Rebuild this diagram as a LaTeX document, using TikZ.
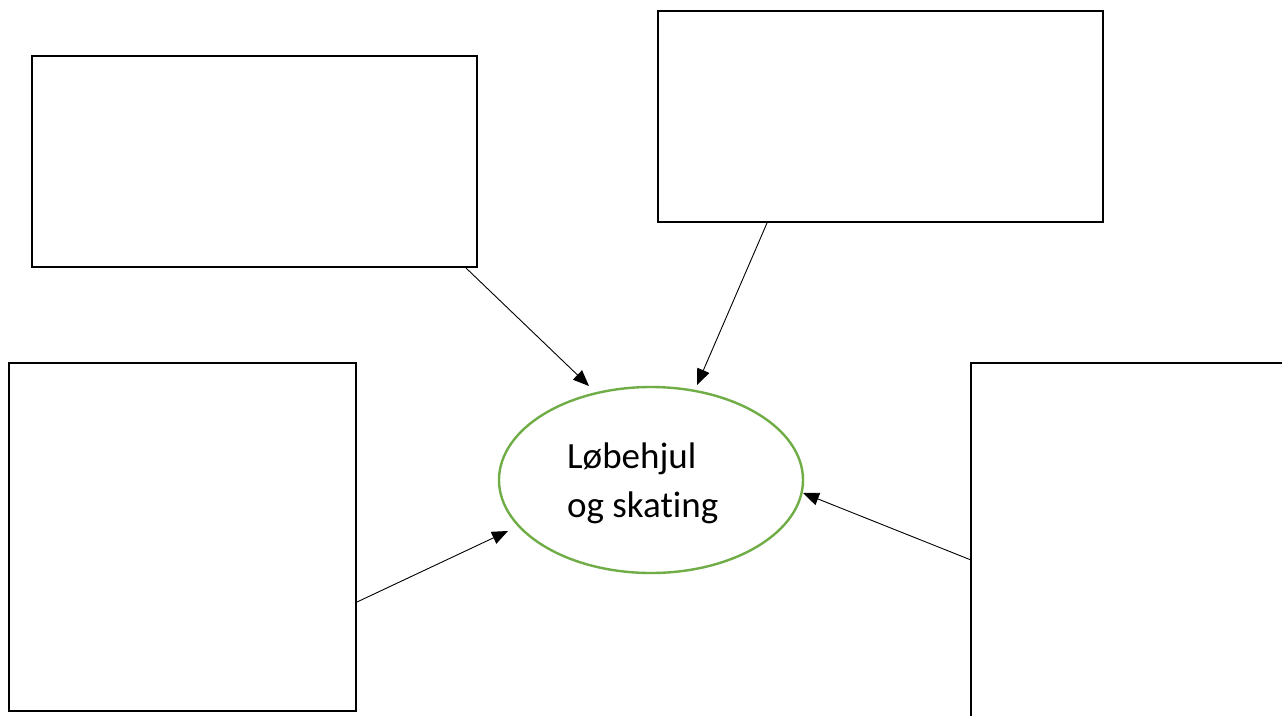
\documentclass[tikz,border=0pt]{standalone}
\usepackage{fontspec}
\setmainfont{Carlito}[Ligatures=NoCommon]
\usetikzlibrary{arrows.meta,shapes.geometric}
\definecolor{leafgreen}{RGB}{112,173,71}
\tikzset{
  emptybox/.style={draw=black,line width=1.8pt,rectangle,inner sep=0pt,fill=white},
  hub/.style={draw=leafgreen,line width=2.4pt,ellipse,inner sep=0pt,minimum width=304pt,minimum height=186pt},
  feed/.style={line width=0.9pt,-{Triangle[length=16pt,width=13pt]}},
}
\begin{document}
\begin{tikzpicture}[x=1pt,y=-1pt]
\useasboundingbox (0,0) rectangle (1282,715);
\clip (0,0) rectangle (1282,715);
\fill[white] (0,0) rectangle (1282,715);
\node[emptybox,minimum width=445pt,minimum height=211pt] (tl) at (254.5,161.5) {};
\node[emptybox,minimum width=445pt,minimum height=211pt] (tr) at (880.5,116.5) {};
\node[emptybox,minimum width=347pt,minimum height=348pt] (bl) at (182.5,537) {};
\node[emptybox,minimum width=340pt,minimum height=380pt] (br) at (1141,553) {};
\node[hub] (c) at (651,480) {};
\node[anchor=base west,inner sep=0pt,align=left,font=\fontsize{37}{49}\selectfont] (lbl) at (567,517) {Løbehjul\\og skating};
\coordinate (tlout) at (466,268);
\coordinate (tlin) at (589,386);
\coordinate (trout) at (767,223);
\coordinate (trin) at (697,385);
\coordinate (blout) at (357,602);
\coordinate (blin) at (508,531);
\coordinate (brout) at (971,560);
\coordinate (brin) at (803,493);
\draw[feed] (tlout) -- (tlin);
\draw[feed] (trout) -- (trin);
\draw[feed] (blout) -- (blin);
\draw[feed] (brout) -- (brin);
\end{tikzpicture}
\end{document}
